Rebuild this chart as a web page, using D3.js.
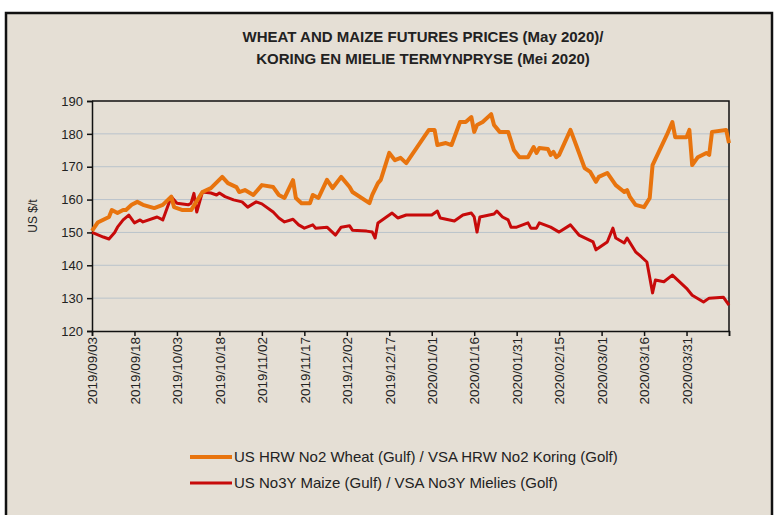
<!DOCTYPE html>
<html>
<head>
<meta charset="utf-8">
<script src="https://cdn.jsdelivr.net/npm/d3@7"></script>
<style>
  body { margin: 0; background: #fff; }
  text { fill: #222; }
</style>
</head>
<body>
<svg id="chart" width="775" height="515"></svg>
<script>
// wheat (orange) series
var wheatDates = ["2019/09/03","2019/09/05","2019/09/09","2019/09/10","2019/09/12","2019/09/14","2019/09/15","2019/09/17","2019/09/19","2019/09/21",
  "2019/09/25","2019/09/28","2019/10/01","2019/10/02","2019/10/05","2019/10/08","2019/10/12","2019/10/15","2019/10/19","2019/10/21",
  "2019/10/24","2019/10/25","2019/10/27","2019/10/30","2019/11/02","2019/11/06","2019/11/08","2019/11/10","2019/11/13","2019/11/14",
  "2019/11/16","2019/11/19","2019/11/20","2019/11/22","2019/11/25","2019/11/27","2019/11/30","2019/12/03","2019/12/04","2019/12/10",
  "2019/12/11","2019/12/13","2019/12/14","2019/12/17","2019/12/19","2019/12/21","2019/12/23","2019/12/31","2020/01/02","2020/01/03",
  "2020/01/06","2020/01/08","2020/01/11","2020/01/13","2020/01/15","2020/01/16","2020/01/17","2020/01/19","2020/01/22","2020/01/23",
  "2020/01/25","2020/01/28","2020/01/30","2020/02/01","2020/02/04","2020/02/06","2020/02/07","2020/02/08","2020/02/11","2020/02/12",
  "2020/02/13","2020/02/14","2020/02/15","2020/02/19","2020/02/21","2020/02/24","2020/02/26","2020/02/28","2020/02/29","2020/03/03",
  "2020/03/06","2020/03/09","2020/03/10","2020/03/11","2020/03/13","2020/03/16","2020/03/18","2020/03/19","2020/03/24","2020/03/26",
  "2020/03/27","2020/03/31","2020/04/01","2020/04/02","2020/04/04","2020/04/07","2020/04/08","2020/04/09","2020/04/14","2020/04/15"];
var wheatValues = [150.5,153,154.7,156.8,155.9,156.8,156.8,158.4,159.3,158.4,
  157.4,158.4,160.9,157.7,156.8,156.8,162.3,163.5,166.9,165,
  163.8,162.3,162.9,161.4,164.4,163.8,161.4,160.5,165.9,160.5,
  158.9,158.9,161.4,160.5,166,163.5,166.9,163.8,162.3,158.9,
  161.4,165,166,174.2,172,172.7,171.1,181.2,181.2,176.6,
  177.2,176.6,183.6,183.6,185.1,180.6,182.7,183.6,186,182.7,
  180.6,180.6,175.1,172.9,172.9,176,174.2,175.7,175.4,173.6,
  174.5,172.9,173.6,181.2,176.6,169.6,168.4,165.4,166.9,168.1,
  164.4,162.3,162.9,160.8,158.4,157.7,160.5,170.5,179.6,183.6,
  179,179,181.2,170.5,172.9,174.2,173.6,180.6,181.2,177.2];

// maize (red) series
var maizeDates = ["2019/09/03","2019/09/07","2019/09/09","2019/09/11","2019/09/12","2019/09/14","2019/09/16","2019/09/18","2019/09/20","2019/09/21",
  "2019/09/26","2019/09/28","2019/10/01","2019/10/03","2019/10/07","2019/10/08","2019/10/09","2019/10/10","2019/10/12","2019/10/15",
  "2019/10/17","2019/10/18","2019/10/20","2019/10/23","2019/10/26","2019/10/28","2019/10/31","2019/11/02","2019/11/06","2019/11/08",
  "2019/11/10","2019/11/13","2019/11/15","2019/11/17","2019/11/20","2019/11/21","2019/11/25","2019/11/28","2019/11/30","2019/12/03",
  "2019/12/04","2019/12/09","2019/12/11","2019/12/12","2019/12/13","2019/12/16","2019/12/18","2019/12/20","2019/12/23","2020/01/01",
  "2020/01/03","2020/01/04","2020/01/09","2020/01/12","2020/01/15","2020/01/16","2020/01/17","2020/01/18","2020/01/23","2020/01/24",
  "2020/01/26","2020/01/28","2020/01/29","2020/01/31","2020/02/04","2020/02/05","2020/02/07","2020/02/08","2020/02/12","2020/02/15",
  "2020/02/19","2020/02/22","2020/02/27","2020/02/28","2020/03/03","2020/03/05","2020/03/06","2020/03/09","2020/03/10","2020/03/13",
  "2020/03/15","2020/03/17","2020/03/19","2020/03/20","2020/03/23","2020/03/26","2020/03/31","2020/04/02","2020/04/06","2020/04/08",
  "2020/04/13","2020/04/15"];
var maizeValues = [150,148.6,148,150,151.6,153.8,155.3,152.9,153.8,153.2,
  154.7,153.8,160.9,158.9,158.4,158.9,161.9,156.2,162.3,162,
  161.4,162,160.9,159.9,159.3,157.7,159.3,158.7,156.2,154.4,
  153.2,154,152.3,151.3,152.3,151.3,151.6,149.2,151.6,152,
  150.7,150.4,150.1,148.3,152.9,154.7,155.9,154.4,155.3,155.3,
  156.5,154.4,153.5,155.3,155.9,154.7,150.1,154.7,155.6,156.5,
  154.7,153.8,151.6,151.6,152.9,151.3,151.3,152.9,151.6,150.1,
  152.3,149.2,147.1,144.7,147.1,151.3,148.3,146.8,148.3,144.1,
  142.6,141,131.6,135.5,135,137,133,130.9,128.8,130,
  130.3,127.9];

var tickDates = ["2019/09/03","2019/09/18","2019/10/03","2019/10/18","2019/11/02","2019/11/17","2019/12/02","2019/12/17",
  "2020/01/01","2020/01/16","2020/01/31","2020/02/15","2020/03/01","2020/03/16","2020/03/31"];
var yTicks = [120,130,140,150,160,170,180,190];

var titleLines = ["WHEAT AND MAIZE FUTURES PRICES (May 2020)/", "KORING EN MIELIE TERMYNPRYSE  (Mei 2020)"];
var seriesNames = ["US HRW No2 Wheat (Gulf) / VSA HRW No2 Koring (Golf)", "US No3Y Maize (Gulf) / VSA No3Y Mielies (Golf)"];
var seriesColors = ["#e8740e", "#c70a0a"];

var parse = d3.timeParse("%Y/%m/%d");
var fmt = d3.timeFormat("%Y/%m/%d");
var svg = d3.select("#chart");
var narrow = "'Liberation Sans Narrow', 'Arial Narrow', 'Liberation Sans', sans-serif";

// frame
svg.append("rect").attr("x", 6).attr("y", 13).attr("width", 766).attr("height", 510)
  .attr("fill", "#e5dfd5").attr("stroke", "#111").attr("stroke-width", 2.5);

var margin = { left: 92, top: 101, right: 729, bottom: 331 };
var endDate = parse("2020/04/15");

var x = d3.scaleTime()
  .domain([parse("2019/09/03"), endDate])
  .range([margin.left, margin.right]);
var y = d3.scaleLinear().domain([120, 190]).range([margin.bottom, margin.top]);

// gridlines
svg.append("g").selectAll("line").data(yTicks.slice(1, -1)).enter().append("line")
  .attr("x1", margin.left).attr("x2", margin.right)
  .attr("y1", d => y(d)).attr("y2", d => y(d))
  .attr("stroke", "#b9c3cb").attr("stroke-width", 1);

// plot border top/right
svg.append("path")
  .attr("d", "M" + margin.left + "," + margin.top + "H" + margin.right + "V" + margin.bottom)
  .attr("fill", "none").attr("stroke", "#111").attr("stroke-width", 1.5);

// y axis
var yAxis = svg.append("g")
  .attr("transform", "translate(" + margin.left + ",0)")
  .call(d3.axisLeft(y).tickValues(yTicks).tickSize(5).tickPadding(4));
yAxis.selectAll("text").attr("font-family", narrow).attr("font-size", 13).attr("fill", "#222");

// x axis
var xAxis = svg.append("g")
  .attr("transform", "translate(0," + margin.bottom + ")")
  .call(d3.axisBottom(x).tickValues(tickDates.map(parse).concat([endDate]))
    .tickSize(5).tickFormat(d => +d === +endDate ? "" : fmt(d)));
xAxis.selectAll("text")
  .attr("font-family", narrow).attr("font-size", 13.5).attr("fill", "#222")
  .attr("transform", "rotate(-90)")
  .attr("text-anchor", "end")
  .attr("x", -6).attr("y", 0).attr("dy", "0.35em");

svg.selectAll(".domain, .tick line").attr("stroke", "#111").attr("stroke-width", 1.5);

// y title
svg.append("text")
  .attr("transform", "translate(37,216) rotate(-90)")
  .attr("text-anchor", "middle")
  .attr("font-family", narrow).attr("font-size", 12)
  .text("US $/t");

// title
svg.append("g").selectAll("text").data(titleLines).enter().append("text")
  .attr("x", 423).attr("y", (d, i) => 42 + i * 22)
  .attr("text-anchor", "middle")
  .attr("font-family", narrow).attr("font-size", 15).attr("font-weight", "bold")
  .text(d => d);

// lines
var line = d3.line().x(d => x(d.date)).y(d => y(d.value)).curve(d3.curveLinear);
var wheat = wheatDates.map((d, i) => ({ date: parse(d), value: wheatValues[i] }));
var maize = maizeDates.map((d, i) => ({ date: parse(d), value: maizeValues[i] }));

svg.append("path").datum(maize).attr("d", line)
  .attr("fill", "none").attr("stroke", seriesColors[1]).attr("stroke-width", 3)
  .attr("stroke-linejoin", "round");
svg.append("path").datum(wheat).attr("d", line)
  .attr("fill", "none").attr("stroke", seriesColors[0]).attr("stroke-width", 4)
  .attr("stroke-linejoin", "round");

// legend
var legend = svg.append("g").selectAll("g").data(seriesNames).enter().append("g")
  .attr("transform", (d, i) => "translate(190," + (457 + i * 26) + ")");
legend.append("line").attr("x1", 0).attr("x2", 42)
  .attr("stroke", (d, i) => seriesColors[i]).attr("stroke-width", (d, i) => i ? 3 : 4);
legend.append("text").attr("x", 44).attr("dy", "0.35em")
  .attr("font-family", "'Liberation Sans', Arial, sans-serif").attr("font-size", 15)
  .text(d => d);
</script>
</body>
</html>
